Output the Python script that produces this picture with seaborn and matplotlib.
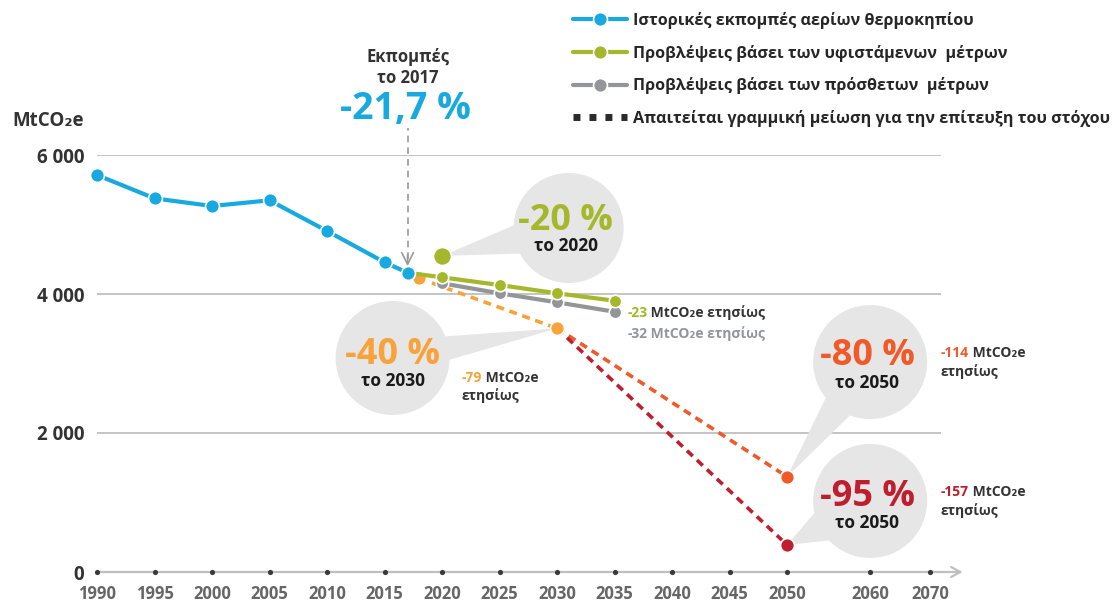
import numpy as np
import matplotlib
matplotlib.use("Agg")
import matplotlib.pyplot as plt
import matplotlib.patches as mpatches
from matplotlib.lines import Line2D
from matplotlib.transforms import IdentityTransform
import seaborn as sns

# ---------------- data ----------------
hist_years = [1990, 1995, 2000, 2005, 2010, 2015, 2017]
hist_vals = [5712, 5376, 5266, 5348, 4906, 4456, 4306]

wem_years = [2017, 2020, 2025, 2030, 2035]
wem_vals = [4306, 4240, 4129, 4010, 3903]

wam_years = [2020, 2025, 2030, 2035]
wam_vals = [4154, 4010, 3880, 3745]

target2020_year = 2020
target2020_val = 4547

path2030_years = [2018, 2030]
path2030_vals = [4226, 3506]
path80_years = [2030, 2050]
path80_vals = [3506, 1371]
path95_years = [2030, 2050]
path95_vals = [3506, 388]

tick_years = [1990, 1995, 2000, 2005, 2010, 2015, 2020, 2025, 2030, 2035,
              2040, 2045, 2050, 2060, 2070]
y_ticks = [0, 2000, 4000, 6000]
y_ticklabels = ["0", "2 000", "4 000", "6 000"]

legend_labels = ["Ιστορικές εκπομπές αερίων θερμοκηπίου",
                 "Προβλέψεις βάσει των υφιστάμενων  μέτρων",
                 "Προβλέψεις βάσει των πρόσθετων  μέτρων",
                 "Απαιτείται γραμμική μείωση για την επίτευξη του στόχου"]

# ---------------- style ----------------
BLUE = "#17A9DF"
GREEN = "#A5B82C"
GRAY = "#939598"
ORANGE = "#F7A23B"
RED = "#F05A28"
DARKRED = "#BE1E2D"
BUBBLE = "#E6E6E6"
DARK = "#333333"
GRID = "#BFBFBF"

sns.set_theme(style="white")
plt.rcParams["font.family"] = ["Open Sans", "DejaVu Sans"]
plt.rcParams["font.weight"] = "bold"

W, H = 1119, 602
fig = plt.figure(figsize=(W / 100, H / 100), dpi=100)
ax = fig.add_axes([97 / W, 30 / H, 865 / W, 417 / H])

# piecewise x scale (uneven spacing after 2050)
YK = np.array([1900, 1990, 2050, 2060, 2070, 2200], dtype=float)
PK = np.array([-18, 0, 12, 13.443, 14.487, 14.487 + 13 * 1.043])


def fwd(x):
    return np.interp(x, YK, PK)


def inv(p):
    return np.interp(p, PK, YK)


ax.set_xscale("function", functions=(fwd, inv))
ax.set_xlim(1990, 2075.3)
ax.set_ylim(0, 6000)
for s in ax.spines.values():
    s.set_visible(False)
ax.grid(False)

# gridlines
ax.hlines([2000, 4000, 6000], 1990, 2071.8, color=GRID, lw=1.3, zorder=0.5)

# x axis with arrow
ax.annotate("", xy=(2075.4, 0), xytext=(1990, 0), xycoords="data",
            arrowprops=dict(arrowstyle="->,head_length=0.55,head_width=0.3",
                            color=GRID, lw=1.6, shrinkA=0, shrinkB=0),
            annotation_clip=False, zorder=0.6)
ax.scatter(tick_years, [0] * len(tick_years), s=14, color="#3a3a3a", zorder=5,
           clip_on=False, linewidths=0)

ax.set_xticks(tick_years)
ax.set_xticklabels([str(y) for y in tick_years], fontsize=12, fontweight="bold",
                   color="#666666")
ax.set_yticks(y_ticks)
ax.set_yticklabels(y_ticklabels, fontsize=13.5, fontweight="bold", color=DARK)
ax.tick_params(axis="x", length=0, pad=9.5)
ax.tick_params(axis="y", length=0, pad=9)
ax.minorticks_off()

# ---------------- series ----------------
mk = dict(marker="o", markeredgecolor="white", markeredgewidth=1.2, clip_on=False)

sns.lineplot(x=wem_years, y=wem_vals, ax=ax, color=GREEN, linewidth=3,
             markersize=9, zorder=4, **mk)
sns.lineplot(x=wam_years, y=wam_vals, ax=ax, color=GRAY, linewidth=3,
             markersize=9, zorder=3.8, **mk)
sns.lineplot(x=path80_years, y=path80_vals, ax=ax, color=RED, linewidth=2.6,
             linestyle=(0, (2.2, 1.6)), markersize=10, markevery=[1], zorder=3.5, **mk)
sns.lineplot(x=path95_years, y=path95_vals, ax=ax, color=DARKRED, linewidth=2.6,
             linestyle=(0, (2.2, 1.6)), markersize=10, markevery=[1], zorder=3.5, **mk)
sns.lineplot(x=path2030_years, y=path2030_vals, ax=ax, color=ORANGE, linewidth=2.6,
             linestyle=(0, (2.2, 1.6)), markersize=10, zorder=3.6, **mk)
sns.lineplot(x=hist_years, y=hist_vals, ax=ax, color=BLUE, linewidth=3,
             markersize=10, zorder=4.2, **mk)
ax.plot([target2020_year], [target2020_val], color=GREEN, markersize=13, zorder=4, **mk)

ax.set_xlabel("")
ax.set_ylabel("")
if ax.get_legend() is not None:
    ax.get_legend().remove()


# ---------------- bubbles ----------------
def bubble(center, target, r=56, half=0.30):
    c = ax.transData.transform(center)
    t = ax.transData.transform(target)
    a = np.arctan2(t[1] - c[1], t[0] - c[0])
    b1 = c + r * 0.97 * np.array([np.cos(a + half), np.sin(a + half)])
    b2 = c + r * 0.97 * np.array([np.cos(a - half), np.sin(a - half)])
    circ = mpatches.Circle(c, r, transform=IdentityTransform(), fc=BUBBLE,
                           ec="none", zorder=1.5, clip_on=False)
    tri = mpatches.Polygon([b1, t, b2], closed=True, transform=IdentityTransform(),
                           fc=BUBBLE, ec="none", zorder=1.5, clip_on=False)
    ax.add_artist(circ)
    ax.add_artist(tri)


def bubble_text(center, big, small, color, dx, dy1, dy2):
    ax.annotate(big, xy=center, xytext=(dx * 0.72, -dy1 * 0.72),
                textcoords="offset points", ha="center", va="baseline",
                fontsize=26, fontweight="bold", color=color, zorder=6)
    ax.annotate(small, xy=center, xytext=(dx * 0.72, -dy2 * 0.72),
                textcoords="offset points", ha="center", va="baseline",
                fontsize=12.5, fontweight="bold", color="#1a1a1a", zorder=6)


c20 = (2031, 4950)
c40 = (2015.7, 3079)
c80 = (2060, 3021)
c95 = (2060, 1022)

bubble(c20, (target2020_year, target2020_val), r=55, half=0.28)
bubble(c40, (path2030_years[1], path2030_vals[1]), r=57, half=0.22)
bubble(c80, (path80_years[1], path80_vals[1]), r=57, half=0.28)
bubble(c95, (path95_years[1], path95_vals[1]), r=57, half=0.30)

bubble_text(c20, "-20 %", "το 2020", GREEN, -3, 2, 23)
bubble_text(c40, "-40 %", "το 2030", ORANGE, 0, 6, 28)
bubble_text(c80, "-80 %", "το 2050", RED, -3, 3, 26)
bubble_text(c95, "-95 %", "το 2050", DARKRED, -3, 5, 27)

# ---------------- 2017 annotation ----------------
ax.text(2017, 7338, "Εκπομπές", ha="center", va="baseline", fontsize=12,
        fontweight="bold", color=DARK)
ax.text(2017, 7036, "το 2017", ha="center", va="baseline", fontsize=12,
        fontweight="bold", color=DARK)
ax.text(2016.8, 6518, "-21,7 %", ha="center", va="baseline", fontsize=27,
        fontweight="bold", color=BLUE)
ax.vlines(2017, 4500, 6390, colors="#9a9a9a", linestyles=(0, (4, 3)), lw=1.2,
          zorder=2, clip_on=False)
ax.annotate("", xy=(2017, 4400), xytext=(2017, 4560),
            arrowprops=dict(arrowstyle="->,head_length=0.7,head_width=0.35",
                            color="#9a9a9a", lw=1.2, shrinkA=0, shrinkB=0), zorder=2)


# ---------------- side labels ----------------
def two_part(x, y, num, rest, numcolor, restcolor, second=None, y2=None, fs=10):
    t1 = ax.text(x, y, num, ha="left", va="baseline", fontsize=fs,
                 fontweight="bold", color=numcolor, zorder=6)
    ax.annotate(rest, xy=(1, 0), xycoords=t1, ha="left", va="bottom",
                fontsize=fs, fontweight="bold", color=restcolor, zorder=6)
    if second is not None:
        ax.text(x, y2, second, ha="left", va="baseline", fontsize=fs,
                fontweight="bold", color=restcolor, zorder=6)


two_part(2036.1, 3669, "-23", " MtCO₂e ετησίως", GREEN, DARK)
two_part(2036.1, 3367, "-32", " MtCO₂e ετησίως", GRAY, GRAY)
two_part(2021.7, 2734, "-79", " MtCO₂e", ORANGE, DARK, "ετησίως", 2475)
two_part(2071.7, 3093, "-114", " MtCO₂e", RED, DARK, "ετησίως", 2820)
two_part(2071.7, 1093, "-157", " MtCO₂e", DARKRED, DARK, "ετησίως", 820)

# unit label
fig.text(12 / W, 1 - 121 / H, "MtCO₂e", ha="left", va="center", fontsize=13.5,
         fontweight="bold", color=DARK)

# ---------------- legend ----------------
handles = [
    Line2D([], [], color=BLUE, lw=3, marker="o", markersize=10,
           markeredgecolor="white", markeredgewidth=1.2),
    Line2D([], [], color=GREEN, lw=3, marker="o", markersize=10,
           markeredgecolor="white", markeredgewidth=1.2),
    Line2D([], [], color=GRAY, lw=3, marker="o", markersize=10,
           markeredgecolor="white", markeredgewidth=1.2),
    Line2D([], [], color="#2b2b2b", lw=5, linestyle=(0, (1, 1.3)),
           dash_capstyle="butt"),
]
fig.legend(handles, legend_labels, loc="upper left",
           bbox_to_anchor=(573 / W, 1 - 12 / H), frameon=False,
           prop={"weight": "bold", "size": 11.6, "family": ["Open Sans", "DejaVu Sans"]},
           labelcolor="#262626", handlelength=3.35, handletextpad=0.4,
           labelspacing=0.97, borderpad=0, borderaxespad=0)

fig.savefig("out.png", dpi=100)
